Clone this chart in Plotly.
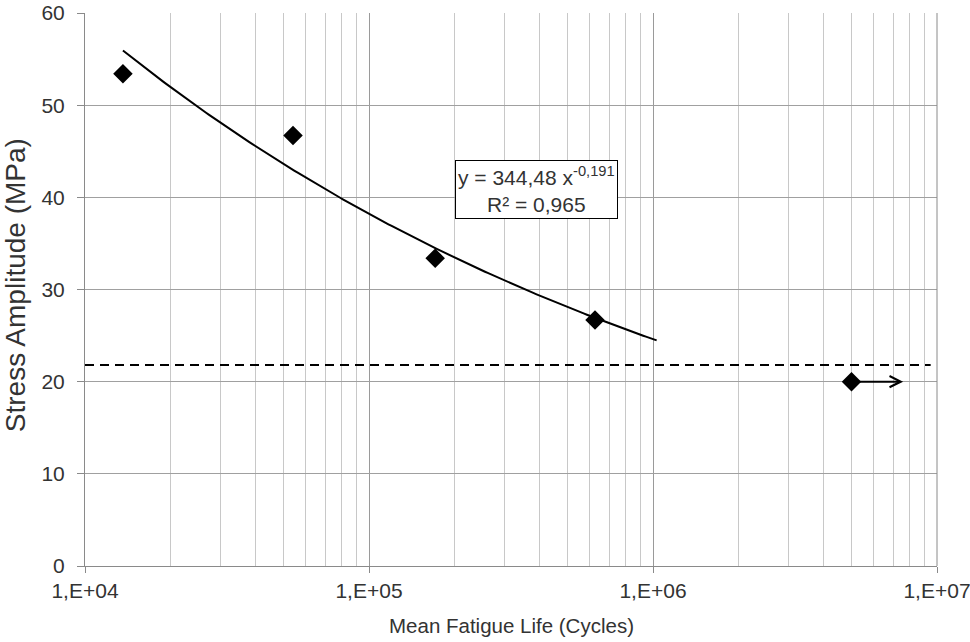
import numpy as np
import plotly.graph_objects as go

# data
cycles = [13600, 54000, 171000, 625000]
stress = [53.4, 46.7, 33.4, 26.7]
runout_cycles = [5.0e6]
runout_stress = [20.0]
runout_arrow_to = 7.6e6
endurance_limit = 21.8
endurance_x = [1.0e4, 9.5e6]
fit_a = 344.48
fit_b = -0.191
fit_r2 = 0.965
fit_range = [13600, 1.03e6]
x_tick_vals = [1e4, 1e5, 1e6, 1e7]
x_tick_text = ["1,E+04", "1,E+05", "1,E+06", "1,E+07"]
y_tick_vals = [0, 10, 20, 30, 40, 50, 60]

FONT = "Liberation Sans, Arial, sans-serif"
TXT = "#333333"

fx = np.logspace(np.log10(fit_range[0]), np.log10(fit_range[1]), 200)
fy = fit_a * fx ** fit_b

fig = go.Figure()
fig.add_trace(go.Scatter(x=endurance_x, y=[endurance_limit] * 2, mode="lines",
                         line=dict(color="black", width=2, dash="9px,6px"),
                         showlegend=False, hoverinfo="skip"))
fig.add_trace(go.Scatter(x=fx, y=fy, mode="lines",
                         line=dict(color="black", width=2),
                         showlegend=False))
fig.add_trace(go.Scatter(x=cycles, y=stress, mode="markers",
                         marker=dict(symbol="diamond", size=15, color="black"),
                         showlegend=False))
fig.add_trace(go.Scatter(x=runout_cycles, y=runout_stress, mode="markers",
                         marker=dict(symbol="diamond", size=15, color="black"),
                         showlegend=False))

fig.add_annotation(x=np.log10(runout_arrow_to), y=runout_stress[0],
                   ax=np.log10(runout_cycles[0]), ay=runout_stress[0],
                   xref="x", yref="y", axref="x", ayref="y",
                   text="", showarrow=True, arrowhead=5, arrowsize=1.1,
                   arrowwidth=2, arrowcolor="black")

eq = (f"y = {str(fit_a).replace('.', ',')} x<sup>{str(fit_b).replace('.', ',')}</sup>"
      f"<br>R² = {str(fit_r2).replace('.', ',')}")
fig.add_annotation(x=np.log10(3.9e5), y=40.9, xref="x", yref="y",
                   text=eq, showarrow=False, align="center",
                   font=dict(family=FONT, size=21, color=TXT),
                   bgcolor="white", bordercolor="black", borderwidth=1,
                   borderpad=2)

# axis titles
fig.add_annotation(x=0.5, y=-0.107, xref="paper", yref="paper",
                   text="Mean Fatigue Life (Cycles)", showarrow=False,
                   xanchor="center", yanchor="middle",
                   font=dict(family=FONT, size=20.5, color=TXT))
fig.add_annotation(x=-0.082, y=0.508, xref="paper", yref="paper",
                   text="Stress Amplitude (MPa)", showarrow=False, textangle=-90,
                   xanchor="center", yanchor="middle",
                   font=dict(family=FONT, size=28, color=TXT))

minor_vals = [m * 10 ** e for e in range(4, 7) for m in range(2, 10)]

fig.update_xaxes(type="log", range=[4, 7], automargin=False,
                 tickmode="array", tickvals=x_tick_vals, ticktext=x_tick_text,
                 showgrid=True, gridcolor="#9a9a9a", gridwidth=1,
                 minor=dict(tickmode="array", tickvals=minor_vals, showgrid=True,
                            gridcolor="#c8c8c8", gridwidth=1),
                 showline=True, linecolor="#8a8a8a", linewidth=1,
                 ticks="outside", ticklen=6, tickcolor="#8a8a8a",
                 ticklabelstandoff=0, ticklabeloverflow="allow",
                 tickfont=dict(family=FONT, size=21, color=TXT),
                 zeroline=False)
fig.update_yaxes(range=[0, 60], tickmode="array", tickvals=y_tick_vals,
                 automargin=False,
                 showgrid=True, gridcolor="#a0a0a0", gridwidth=1,
                 showline=True, linecolor="#8a8a8a", linewidth=1,
                 ticks="outside", ticklen=7, tickcolor="#8a8a8a",
                 ticklabelstandoff=8, ticklabeloverflow="allow",
                 tickfont=dict(family=FONT, size=21, color=TXT),
                 zeroline=False)

fig.add_shape(type="line", xref="paper", yref="paper", x0=1, x1=1, y0=0, y1=1,
              line=dict(color="#8a8a8a", width=1))

fig.update_layout(width=970, height=642, margin=dict(l=85, r=33, t=13, b=76),
                  plot_bgcolor="white", paper_bgcolor="white",
                  font=dict(family=FONT, color=TXT))

fig.write_html("out.html")
